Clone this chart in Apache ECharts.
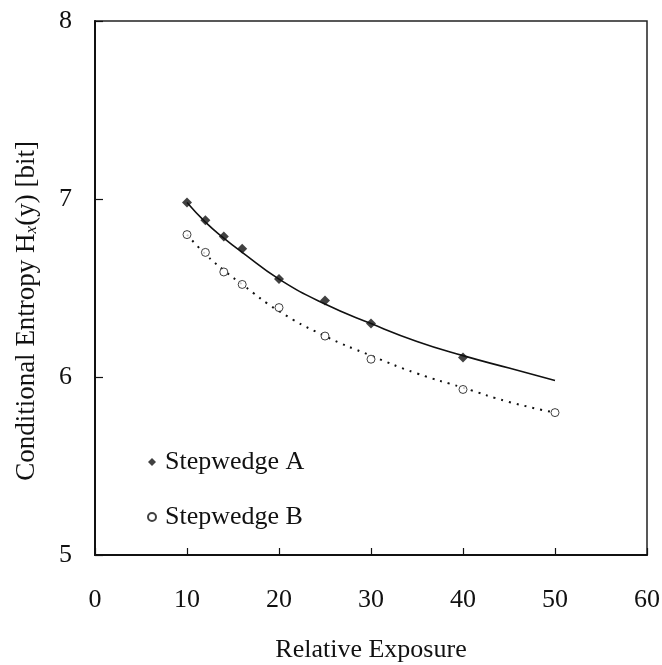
<!DOCTYPE html>
<html>
<head>
<meta charset="utf-8">
<script src="https://cdn.jsdelivr.net/npm/echarts@6/dist/echarts.min.js"></script>
<style>
  html, body { margin: 0; padding: 0; background: #fff; }
  #chart { width: 662px; height: 665px; }
</style>
</head>
<body>
<div id="chart"></div>
<script>
// measured points
const exposure = [10, 12, 14, 16, 20, 25, 30, 40, 50];
const stepA = [6.98, 6.88, 6.79, 6.72, 6.55, 6.43, 6.30, 6.11, null];
const stepB = [6.80, 6.70, 6.59, 6.52, 6.39, 6.23, 6.10, 5.93, 5.80];

// fitted curves
const fitX = [10, 12, 14, 16, 20, 25, 30, 35, 40, 45, 50];
const fitA = [6.98, 6.87, 6.78, 6.70, 6.55, 6.41, 6.30, 6.20, 6.12, 6.05, 5.98];
const fitB = [6.80, 6.69, 6.60, 6.52, 6.37, 6.23, 6.12, 6.02, 5.94, 5.86, 5.80];

const xTicks = [0, 10, 20, 30, 40, 50, 60];
const yTicks = [5, 6, 7, 8];

function pairs(xs, ys) {
  const out = [];
  xs.forEach(function (x, i) {
    if (ys[i] != null) out.push([x, ys[i]]);
  });
  return out;
}

const font = "'Liberation Serif', 'Times New Roman', serif";

const chart = echarts.init(document.getElementById("chart"));
chart.setOption({
  animation: false,
  backgroundColor: "#fff",
  textStyle: { fontFamily: font, color: "#111" },
  grid: {
    left: 95,
    top: 21,
    right: 15,
    bottom: 110,
    outerBoundsMode: "none",
    show: true,
    borderColor: "#222",
    borderWidth: 1.5,
  },
  legend: {
    orient: "vertical",
    left: 142,
    top: 444,
    itemGap: 29,
    itemWidth: 8,
    itemHeight: 8,
    data: ["Stepwedge A", "Stepwedge B"],
    textStyle: { fontFamily: font, fontSize: 26, color: "#111", padding: [0, 0, 0, 4] },
  },
  xAxis: {
    type: "value",
    min: xTicks[0],
    max: xTicks[xTicks.length - 1],
    interval: 10,
    name: "Relative Exposure",
    nameLocation: "middle",
    nameGap: 82,
    nameTextStyle: { fontFamily: font, fontSize: 26, color: "#111" },
    axisLine: { lineStyle: { color: "#111", width: 2 } },
    axisTick: { inside: true, length: 7, lineStyle: { color: "#111", width: 1.2 } },
    axisLabel: { margin: 32, fontFamily: font, fontSize: 26, color: "#111" },
    splitLine: { show: false },
  },
  yAxis: {
    type: "value",
    min: yTicks[0],
    max: yTicks[yTicks.length - 1],
    interval: 1,
    name: "{a|Conditional Entropy H}{s|x}{a|(y) [bit]}",
    nameLocation: "middle",
    nameGap: 55,
    nameRotate: 90,
    nameTextStyle: {
      padding: [0, 46, 0, 0],
      rich: {
        a: { fontFamily: font, fontSize: 27, color: "#111" },
        s: { fontFamily: font, fontSize: 17, fontStyle: "italic", color: "#111", verticalAlign: "bottom", padding: [10, 0, 0, 0] },
      },
    },
    axisLine: { lineStyle: { color: "#111", width: 2 } },
    axisTick: { inside: true, length: 8, lineStyle: { color: "#111", width: 1.2 } },
    axisLabel: { margin: 23, fontFamily: font, fontSize: 26, color: "#111" },
    splitLine: { show: false },
  },
  series: [
    {
      name: "fit A",
      type: "line",
      data: pairs(fitX, fitA),
      smooth: true,
      showSymbol: false,
      lineStyle: { color: "#111", width: 1.6 },
      z: 2,
    },
    {
      name: "fit B",
      type: "line",
      data: pairs(fitX, fitB),
      smooth: true,
      showSymbol: false,
      lineStyle: { color: "#111", width: 2, type: [2, 6] },
      z: 2,
    },
    {
      name: "Stepwedge A",
      type: "scatter",
      data: pairs(exposure, stepA),
      symbol: "diamond",
      symbolSize: 10,
      itemStyle: { color: "#111" },
      z: 3,
    },
    {
      name: "Stepwedge B",
      type: "scatter",
      data: pairs(exposure, stepB),
      symbol: "circle",
      symbolSize: 8,
      itemStyle: { color: "#fff", borderColor: "#111", borderWidth: 1 },
      z: 3,
    },
  ],
});
</script>
</body>
</html>
